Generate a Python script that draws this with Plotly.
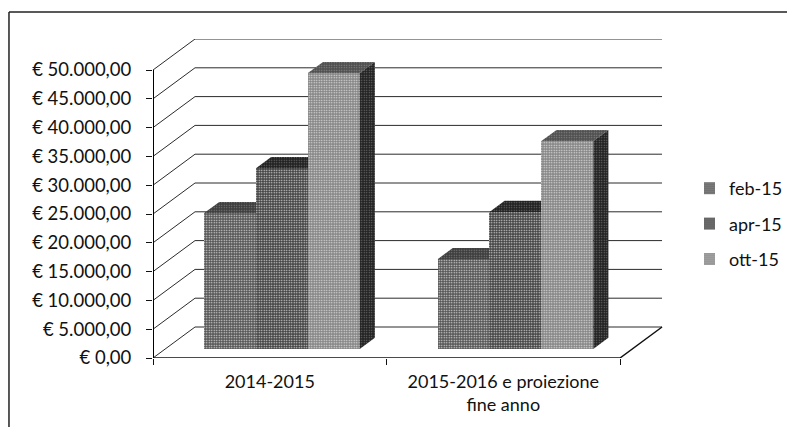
import plotly.graph_objects as go

# Data
categories = ["2014-2015", "2015-2016 e proiezione<br>fine anno"]
series_names = ["feb-15", "apr-15", "ott-15"]
feb = [23600, 15600]
apr = [31400, 23800]
ott = [47900, 36100]
tick_values = [0, 5000, 10000, 15000, 20000, 25000, 30000, 35000, 40000, 45000, 50000]
tick_labels = ["€ 0,00", "€ 5.000,00", "€ 10.000,00", "€ 15.000,00", "€ 20.000,00", "€ 25.000,00",
               "€ 30.000,00", "€ 35.000,00", "€ 40.000,00", "€ 45.000,00", "€ 50.000,00"]

series = [feb, apr, ott]
front_cols = ["#565656", "#444444", "#868686"]
top_cols = ["#3e3e3e", "#222222", "#505050"]
side_cols = ["#444444", "#333333", "#242424"]

FONT = "Lato"
# Projection of the oblique 3D box (in axis units)
DEPTH_X = 0.18
DEPTH_V = 5382
FRONT = 0.29   # depth of bar front
BACK = 0.65    # depth of bar back
GROUP_PAD = 1 / 6
BAR_W = (1 - 2 * GROUP_PAD) / 3
XMAX = 2.2013
WALL_R = 2 + DEPTH_X
LINE = "#2b2b2b"


def proj(x, v, d):
    return x + d * DEPTH_X, v + d * DEPTH_V


def poly(pts, fill):
    xs = [p[0] for p in pts] + [pts[0][0]]
    ys = [p[1] for p in pts] + [pts[0][1]]
    return xs, ys, fill


fig = go.Figure()

# Walls: grid lines on left side wall and back wall
wx, wy = [], []
for v in tick_values:
    x0, y0 = proj(0, v, 0)
    x1, y1 = proj(0, v, 1)
    wx += [x0, x1, WALL_R, None]
    wy += [y0, y1, y1, None]
fig.add_trace(go.Scatter(x=wx, y=wy, mode="lines", line=dict(color=LINE, width=1),
                         showlegend=False, hoverinfo="skip", cliponaxis=False, zorder=0))
# Floor front edge + right diagonal
fx1, fy1 = proj(2, 0, 1)
fig.add_trace(go.Scatter(x=[0, 2, fx1], y=[0, 0, fy1], mode="lines", line=dict(color="#111111", width=1.5),
                         showlegend=False, hoverinfo="skip", cliponaxis=False, zorder=0))
# Value axis line
fig.add_trace(go.Scatter(x=[0, 0], y=[tick_values[0], tick_values[-1]], mode="lines",
                         line=dict(color="#000000", width=2),
                         showlegend=False, hoverinfo="skip", cliponaxis=False, zorder=0))

for s, (name, vals) in enumerate(zip(series_names, series)):
    xs_left = [g + GROUP_PAD + s * BAR_W for g in range(len(vals))]
    base_x, base_v = proj(0, 0, FRONT)
    fig.add_trace(go.Bar(
        x=[x + BAR_W / 2 + base_x for x in xs_left],
        y=vals, base=[base_v] * len(vals), width=BAR_W, name=name,
        legendgroup=name,
        marker=dict(color=front_cols[s], line=dict(width=0),
                    pattern=dict(shape=".", size=2.5, solidity=0.25, fgcolor="#e8e8e8",
                                 bgcolor=front_cols[s], fillmode="replace")),
        zorder=s + 1,
    ))
    for g, v in enumerate(vals):
        xl = xs_left[g]
        xr = xl + BAR_W
        polys = [
            poly([proj(xl, v, FRONT), proj(xr, v, FRONT), proj(xr, v, BACK), proj(xl, v, BACK)], top_cols[s]),
            poly([proj(xr, 0, FRONT), proj(xr, v, FRONT), proj(xr, v, BACK), proj(xr, 0, BACK)], side_cols[s]),
        ]
        for px, py, col in polys:
            fig.add_trace(go.Scatter(
                x=px, y=py, mode="lines", fill="toself", line=dict(width=0), fillcolor=col,
                fillpattern=dict(shape=".", size=2.5, solidity=0.2, fgcolor="#cfcfcf", bgcolor=col),
                showlegend=False, hoverinfo="skip", zorder=s + 1,
            ))

fig.update_layout(
    width=787, height=419, autosize=False,
    margin=dict(l=145, r=128, t=31, b=69, pad=0, autoexpand=False),
    paper_bgcolor="white", plot_bgcolor="white",
    showlegend=True,
    bargap=0,
    barmode="overlay",
    xaxis=dict(range=[0, XMAX], showgrid=False, zeroline=False, showline=False, automargin=False,
               tickvals=[0.5, 1.5], ticktext=categories, ticks="", ticklen=0,
               ticklabelstandoff=11,
               tickfont=dict(family=FONT, size=18, color="#111111"), tickangle=0,
               minor=dict(tickvals=[0, 1, 2], ticks="outside", ticklen=6, tickwidth=1, tickcolor="#111111")),
    yaxis=dict(range=[0, tick_values[-1] + DEPTH_V], showgrid=False, zeroline=False, showline=False, automargin=False,
               tickvals=tick_values, ticktext=tick_labels, ticks="outside", ticklen=6,
               tickwidth=1, tickcolor="#111111", ticklabelstandoff=11,
               tickfont=dict(family=FONT, size=18.5, color="#111111")),
    legend=dict(x=(704 - 153) / 514, xanchor="left", y=1 - (170 - 39) / 319, yanchor="top",
                font=dict(family=FONT, size=18, color="#111111"),
                tracegroupgap=9, itemwidth=30, indentation=-15, bgcolor="rgba(0,0,0,0)"),
    shapes=[
        dict(type="line", xref="paper", yref="paper", x0=-0.2802, x1=1.2490, y0=1.0846, y1=1.0846,
             line=dict(color="#222222", width=1.5)),
        dict(type="line", xref="paper", yref="paper", x0=-0.2802, x1=-0.2802, y0=1.0846, y1=-0.2163,
             line=dict(color="#222222", width=1.5)),
    ],
)
fig.write_html("out.html")
